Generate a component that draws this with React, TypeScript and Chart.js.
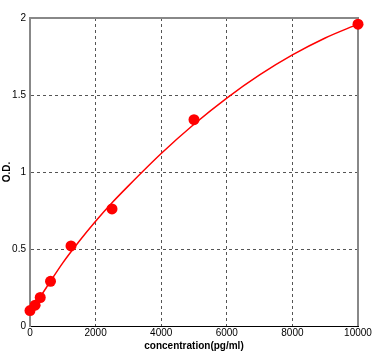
import React, { useEffect, useRef } from "react";
import { Chart, registerables } from "chart.js";

Chart.register(...registerables);

// Standard points (concentration pg/ml, O.D.)
const stdConc = [0, 156, 312, 625, 1250, 2500, 5000, 10000];
const stdOD = [0.1, 0.135, 0.185, 0.29, 0.52, 0.76, 1.34, 1.96];

// Fitted curve
const curveConc = [0, 500, 1000, 1500, 2000, 2500, 3000, 4000, 5000, 6000, 7000, 8000, 9000, 10000];
const curveOD = [0.09, 0.25, 0.41, 0.55, 0.68, 0.8, 0.91, 1.12, 1.31, 1.48, 1.63, 1.76, 1.87, 1.96];

// Axis ticks
const xTicks = [0, 2000, 4000, 6000, 8000, 10000];
const xTickLabels = ["0", "2000", "4000", "6000", "8000", "10000"];
const yTicks = [0, 0.5, 1, 1.5, 2];
const yTickLabels = ["0", "0.5", "1", "1.5", "2"];

const xTitle = "concentration(pg/ml)";
const yTitle = "O.D.";

const FONT = "'Liberation Sans', Arial, sans-serif";

export default function App() {
  const ref = useRef<HTMLCanvasElement>(null);

  useEffect(() => {
    if (!ref.current) return;
    const frame = {
      id: "frame",
      beforeDatasetsDraw(chart: any) {
        const { ctx, chartArea: a } = chart;
        ctx.save();
        ctx.strokeStyle = "#888888";
        ctx.lineWidth = 2;
        ctx.beginPath();
        ctx.moveTo(a.left, a.top);
        ctx.lineTo(a.right, a.top);
        ctx.lineTo(a.right, a.bottom);
        ctx.stroke();
        ctx.restore();
      },
    };

    const chart = new Chart(ref.current, {
      type: "scatter",
      data: {
        datasets: [
          {
            data: curveConc.map((x, i) => ({ x, y: curveOD[i] })),
            showLine: true,
            borderColor: "#ff0000",
            backgroundColor: "#ff0000",
            borderWidth: 1.5,
            pointRadius: 0,
            cubicInterpolationMode: "monotone",
            clip: false,
            order: 2,
          } as any,
          {
            data: stdConc.map((x, i) => ({ x, y: stdOD[i] })),
            showLine: false,
            borderColor: "#ff0000",
            backgroundColor: "#ff0000",
            pointRadius: 5.5,
            borderWidth: 0,
            clip: false,
            order: 1,
          } as any,
        ],
      },
      options: {
        animation: false,
        responsive: false,
        devicePixelRatio: 1,
        layout: { padding: { top: 18, right: 18, left: 0, bottom: 0 } },
        plugins: { legend: { display: false }, tooltip: { enabled: false } },
        scales: {
          x: {
            type: "linear",
            min: 0,
            max: 10000,
            afterBuildTicks: (s: any) => {
              s.ticks = xTicks.map((v) => ({ value: v }));
            },
            afterFit: (s: any) => {
              s.height = 29;
              s.paddingLeft = 0;
              s.paddingRight = 0;
            },
            ticks: {
              autoSkip: false,
              maxRotation: 0,
              padding: 1,
              color: "#000",
              font: { family: FONT, size: 10 },
              callback: (v: any) => {
                const i = xTicks.indexOf(Number(v));
                return i >= 0 ? xTickLabels[i] : "";
              },
            },
            grid: { color: "#555555", lineWidth: 1, drawTicks: false },
            border: { display: true, color: "#000000", width: 1, dash: [3, 3] },
            title: {
              display: true,
              text: xTitle,
              color: "#000",
              font: { family: FONT, size: 10, weight: "bold" },
              padding: { top: 0, bottom: 3 },
            },
          },
          y: {
            type: "linear",
            min: 0,
            max: 2,
            afterBuildTicks: (s: any) => {
              s.ticks = yTicks.map((v) => ({ value: v }));
            },
            afterFit: (s: any) => {
              s.width = 30;
              s.paddingTop = 0;
              s.paddingBottom = 0;
            },
            ticks: {
              autoSkip: false,
              padding: 4,
              color: "#000",
              font: { family: FONT, size: 10 },
              callback: (v: any) => {
                const i = yTicks.indexOf(Number(v));
                return i >= 0 ? yTickLabels[i] : "";
              },
            },
            grid: { color: "#555555", lineWidth: 1, drawTicks: false },
            border: { display: true, color: "#888888", width: 2, dash: [3, 3] },
            title: {
              display: true,
              text: yTitle,
              color: "#000",
              font: { family: FONT, size: 10, weight: "bold" },
              padding: { top: 1, bottom: 0 },
            },
          },
        },
      } as any,
      plugins: [frame],
    });
    return () => chart.destroy();
  }, []);

  return (
    <div style={{ position: "absolute", left: 0, top: 0, width: 376, height: 355, background: "#fff" }}>
      <canvas ref={ref} width={376} height={355} style={{ display: "block", width: 376, height: 355 }} />
    </div>
  );
}
